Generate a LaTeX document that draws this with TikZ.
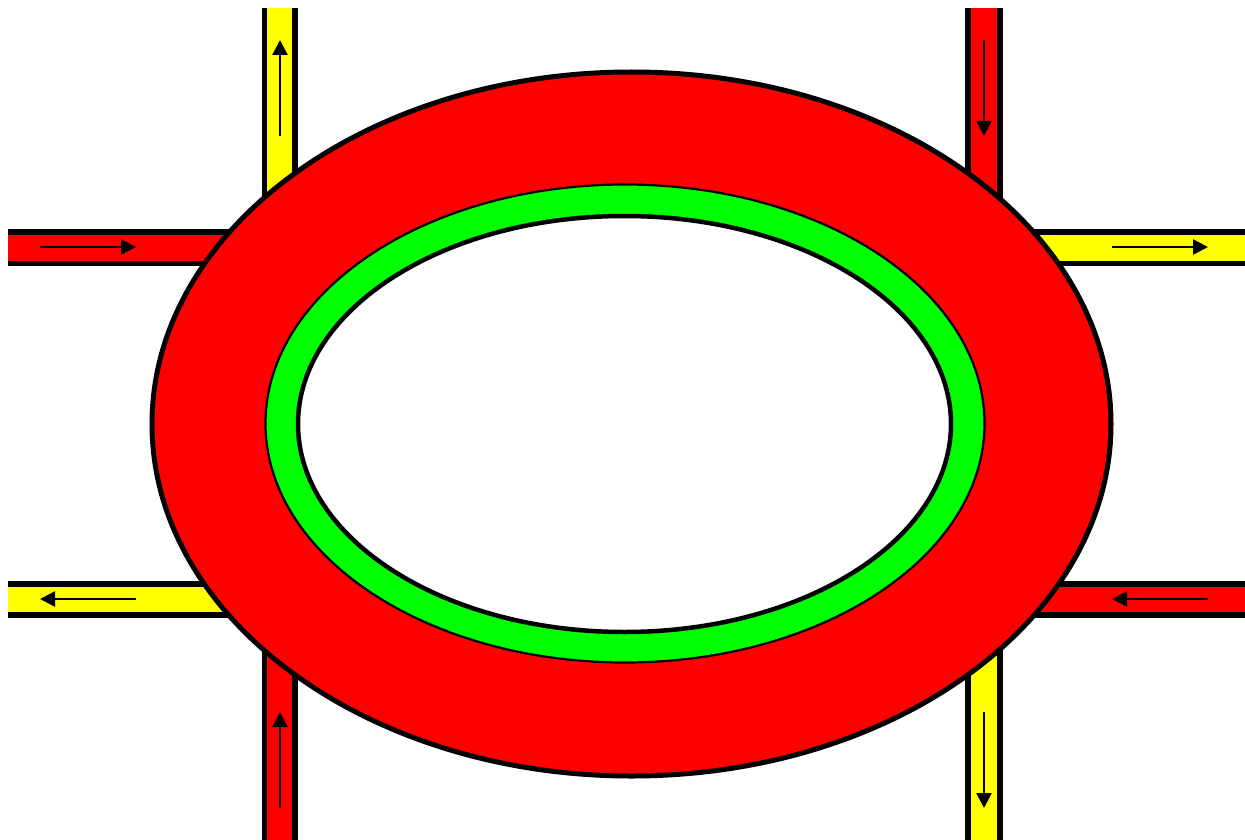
\documentclass[tikz,border=0pt]{standalone}
\usetikzlibrary{arrows.meta}
\definecolor{roadred}{RGB}{255,0,0}
\definecolor{roadyellow}{RGB}{255,255,0}
\definecolor{ringgreen}{RGB}{0,255,0}
\tikzset{
  edgeline/.style={line width=5.5pt, black},
  flowarrow/.style={line width=2.5pt, -{Triangle[length=15pt,width=15pt]}},
}
\begin{document}
\begin{tikzpicture}[x=1pt,y=-1pt]
\useasboundingbox (0,0) rectangle (1245,840);
% road fills
\fill[roadyellow] (264.5,8) rectangle (295,424);
\fill[roadred] (264.5,424) rectangle (295,840);
\fill[roadred] (968,8) rectangle (1000,424);
\fill[roadyellow] (968,424) rectangle (1000,840);
\fill[roadred] (8,232) rectangle (632,263.5);
\fill[roadyellow] (632,232) rectangle (1245,263.5);
\fill[roadyellow] (8,584) rectangle (632,615);
\fill[roadred] (632,584) rectangle (1245,615);
% road edges
\draw[edgeline] (264.5,8) -- (264.5,840);
\draw[edgeline] (295,8) -- (295,840);
\draw[edgeline] (968,8) -- (968,840);
\draw[edgeline] (1000,8) -- (1000,840);
\draw[edgeline] (8,232) -- (1245,232);
\draw[edgeline] (8,263.5) -- (1245,263.5);
\draw[edgeline] (8,584) -- (1245,584);
\draw[edgeline] (8,615) -- (1245,615);
% arrows
\coordinate (a1s) at (280,136); \coordinate (a1e) at (280,40);
\coordinate (a2s) at (984,40);  \coordinate (a2e) at (984,136);
\coordinate (a3s) at (40,247);  \coordinate (a3e) at (136,247);
\coordinate (a4s) at (1112,247); \coordinate (a4e) at (1208,247);
\coordinate (a5s) at (136,599); \coordinate (a5e) at (40,599);
\coordinate (a6s) at (1208,599); \coordinate (a6e) at (1112,599);
\coordinate (a7s) at (280,808); \coordinate (a7e) at (280,712);
\coordinate (a8s) at (984,712); \coordinate (a8e) at (984,808);
\foreach \i in {1,...,8} {\draw[flowarrow] (a\i s) -- (a\i e);}
% roundabout
\draw[line width=5pt, fill=roadred] (631.5,424) ellipse [x radius=479.5, y radius=352];
\draw[line width=2.2pt, fill=ringgreen] (625,423.5) ellipse [x radius=359.5, y radius=239];
\draw[line width=4.5pt, fill=white] (624.5,424) ellipse [x radius=326.5, y radius=208];
\end{tikzpicture}
\end{document}
